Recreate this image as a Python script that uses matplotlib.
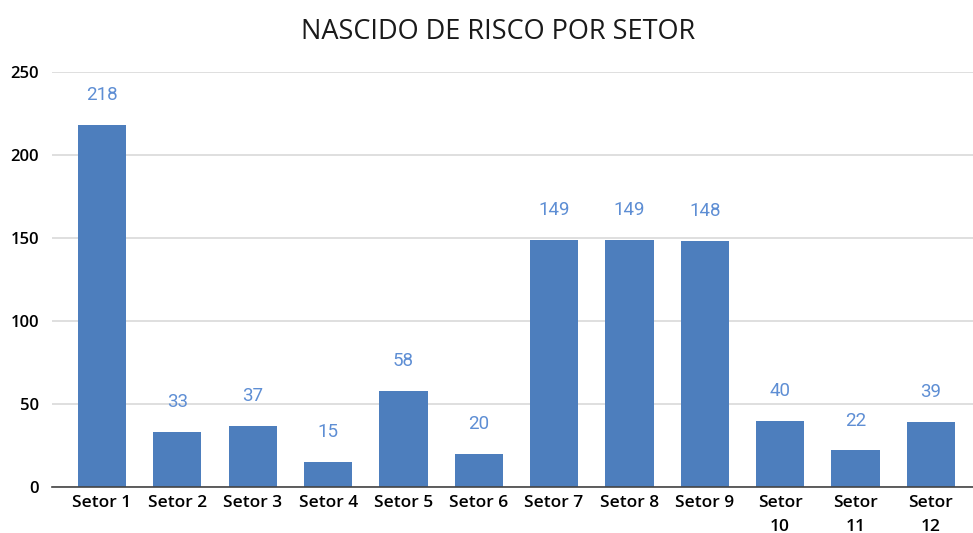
import matplotlib.pyplot as plt
import numpy as np

setores = ["Setor 1", "Setor 2", "Setor 3", "Setor 4", "Setor 5", "Setor 6",
           "Setor 7", "Setor 8", "Setor 9", "Setor\n10", "Setor\n11", "Setor\n12"]
valores = [218, 33, 37, 15, 58, 20, 149, 149, 148, 40, 22, 39]

plt.rcParams['font.family'] = ['Open Sans', 'DejaVu Sans']

fig = plt.figure(figsize=(9.73, 5.33), dpi=100)
ax = fig.add_axes([0.053, 0.0863, 0.947, 0.779])

x = np.arange(len(setores))
bars = ax.bar(x, valores, width=0.64, color='#4d7ebd', zorder=3)

for xi, v in zip(x, valores):
    ax.annotate(str(v), (xi, v), xytext=(0, 15), textcoords='offset points',
                ha='center', va='bottom', fontsize=13.5, color='#5e8ed4',
                family=['Roboto', 'DejaVu Sans'])

ax.set_ylim(0, 250)
ax.set_xlim(-0.67, 11.56)
ax.set_yticks([0, 50, 100, 150, 200, 250])
ax.set_xticks(x)
ax.set_xticklabels(setores, fontsize=12.5, linespacing=1.6, fontweight='semibold')
ax.tick_params(axis='y', length=0, pad=9, labelsize=12)
for lbl in ax.get_yticklabels():
    lbl.set_fontweight('semibold')
ax.tick_params(axis='x', length=0, pad=6)
ax.grid(axis='y', color='#d9d9d9', linewidth=1.2, zorder=0)
for s in ['top', 'right', 'left']:
    ax.spines[s].set_visible(False)
ax.spines['bottom'].set_color('#444444')
ax.spines['bottom'].set_linewidth(1.2)
ax.spines['bottom'].set_zorder(4)

fig.text(0.512, 0.94, "NASCIDO DE RISCO POR SETOR", ha='center', va='center',
         fontsize=19.5, color='#1a1a1a')

fig.savefig("out.png", dpi=100)
